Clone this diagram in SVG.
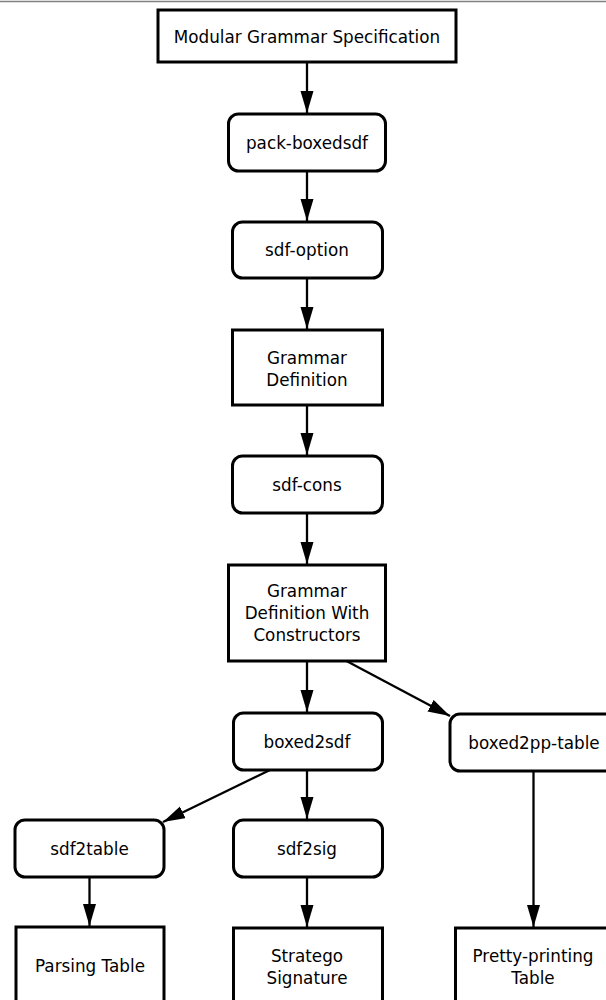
<svg xmlns="http://www.w3.org/2000/svg" width="606" height="1000" viewBox="0 0 606 1000">
<style>
  .box{fill:#fff;stroke:#000;stroke-width:3}
  .lbl{font-family:"DejaVu Sans",sans-serif;font-size:16.8px;fill:#000;text-anchor:middle}
  .edge{stroke:#000;stroke-width:2.3;fill:none;marker-end:url(#ah)}
</style>
<defs>
  <marker id="ah" markerUnits="userSpaceOnUse" markerWidth="24" markerHeight="14" refX="22" refY="6.5" orient="auto">
    <path d="M0,0 L22,6.5 L0,13 z" fill="#000"/>
  </marker>
</defs>
<rect x="0" y="0" width="606" height="1000" fill="#fff"/>
<line x1="0" y1="1.5" x2="606" y2="1.5" stroke="#808080" stroke-width="1.5"/>
<g id="connectors">
  <path class="edge" d="M307,62 L307,113"/>
  <path class="edge" d="M307,171 L307,221"/>
  <path class="edge" d="M307,278 L307,329"/>
  <path class="edge" d="M307,405 L307,455"/>
  <path class="edge" d="M307,513 L307,564"/>
  <path class="edge" d="M307,661 L307,712"/>
  <path class="edge" d="M346.5,661 L450,716"/>
  <path class="edge" d="M307,770 L307,819"/>
  <path class="edge" d="M270,770 L163,822"/>
  <path class="edge" d="M89.5,877 L89.5,926"/>
  <path class="edge" d="M307,877 L307,927"/>
  <path class="edge" d="M533.5,771 L533.5,927"/>
</g>
<g id="n-mgs">
  <rect class="box" x="158" y="10" width="298" height="52"/>
  <text class="lbl" x="307" y="42.5">Modular Grammar Specification</text>
</g>
<g id="n-pack">
  <rect class="box" x="228.5" y="114" width="157" height="57" rx="10"/>
  <text class="lbl" x="307" y="148.5">pack-boxedsdf</text>
</g>
<g id="n-sdfoption">
  <rect class="box" x="232.5" y="222" width="150" height="56" rx="10"/>
  <text class="lbl" x="307" y="256">sdf-option</text>
</g>
<g id="n-gd">
  <rect class="box" x="232.5" y="330" width="150" height="75"/>
  <text class="lbl" x="307" y="363.5">Grammar</text>
  <text class="lbl" x="307" y="385.5">Definition</text>
</g>
<g id="n-sdfcons">
  <rect class="box" x="232.5" y="456" width="150" height="57" rx="10"/>
  <text class="lbl" x="307" y="490.5">sdf-cons</text>
</g>
<g id="n-gdwc">
  <rect class="box" x="228.5" y="565" width="157" height="96"/>
  <text class="lbl" x="307" y="597">Grammar</text>
  <text class="lbl" x="307" y="619">Definition With</text>
  <text class="lbl" x="307" y="641">Constructors</text>
</g>
<g id="n-boxed2sdf">
  <rect class="box" x="233.5" y="713" width="149" height="57" rx="10"/>
  <text class="lbl" x="307" y="747.5">boxed2sdf</text>
</g>
<g id="n-boxed2pp">
  <rect class="box" x="450" y="714" width="168" height="57" rx="10"/>
  <text class="lbl" x="534" y="748.5">boxed2pp-table</text>
</g>
<g id="n-sdf2table">
  <rect class="box" x="15" y="820" width="149" height="57" rx="10"/>
  <text class="lbl" x="89.5" y="855">sdf2table</text>
</g>
<g id="n-sdf2sig">
  <rect class="box" x="233.5" y="820" width="149" height="57" rx="10"/>
  <text class="lbl" x="307" y="855">sdf2sig</text>
</g>
<g id="n-parsing">
  <rect class="box" x="16" y="927" width="148" height="78"/>
  <text class="lbl" x="90" y="971.5">Parsing Table</text>
</g>
<g id="n-stratego">
  <rect class="box" x="233.5" y="928" width="149" height="78"/>
  <text class="lbl" x="307" y="961.5">Stratego</text>
  <text class="lbl" x="307" y="983.5">Signature</text>
</g>
<g id="n-pp">
  <rect class="box" x="455.5" y="928" width="155" height="78"/>
  <text class="lbl" x="533" y="961.5">Pretty-printing</text>
  <text class="lbl" x="533" y="983.5">Table</text>
</g>
</svg>
